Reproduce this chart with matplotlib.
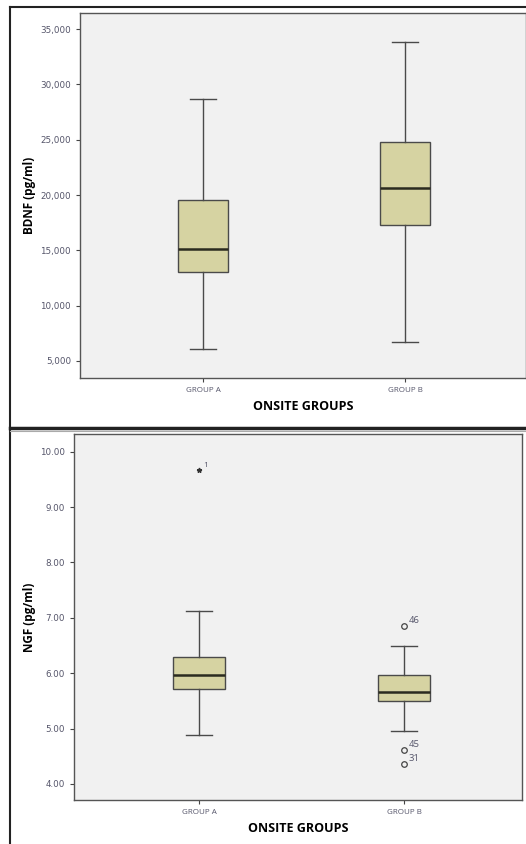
import matplotlib
matplotlib.use("Agg")
import matplotlib.pyplot as plt
from matplotlib.lines import Line2D
from matplotlib.ticker import FuncFormatter

plt.rcParams['font.family'] = ['Open Sans', 'DejaVu Sans']

groups = ["GROUP A", "GROUP B"]

bdnf_whislo = [6120, 6700]
bdnf_q1 = [13020, 17320]
bdnf_med = [15150, 20660]
bdnf_q3 = [19550, 24770]
bdnf_whishi = [28650, 33830]
bdnf_ticks = [5000, 10000, 15000, 20000, 25000, 30000, 35000]

ngf_whislo = [4.89, 4.95]
ngf_q1 = [5.72, 5.49]
ngf_med = [5.97, 5.66]
ngf_q3 = [6.30, 5.97]
ngf_whishi = [7.12, 6.49]
ngf_extremes = [[9.67], []]
ngf_extreme_ids = [["1"], []]
ngf_outliers = [[], [6.86, 4.62, 4.36]]
ngf_outlier_ids = [[], ["46", "45", "31"]]
ngf_ticks = [4.0, 5.0, 6.0, 7.0, 8.0, 9.0, 10.0]

BOX = "#D6D3A2"
EDGE = "#4a4a4a"
BG = "#F1F1F1"
TICKC = "#55556a"

fig = plt.figure(figsize=(5.26, 8.44), dpi=100)
fig.patch.set_facecolor("white")

def make_stats(lo, q1, med, q3, hi):
    return [dict(whislo=lo[i], q1=q1[i], med=med[i], q3=q3[i], whishi=hi[i],
                 fliers=[], label=groups[i]) for i in range(len(groups))]

def style_axes(ax):
    ax.set_facecolor(BG)
    for s in ax.spines.values():
        s.set_color("#555555")
        s.set_linewidth(1.0)
    ax.tick_params(axis='both', colors="#444444", labelcolor=TICKC,
                   length=3, width=0.8)
    ax.tick_params(axis='y', labelsize=6.3)
    ax.tick_params(axis='x', labelsize=5.8)
    for t in ax.get_yticklabels():
        t.set_family("DejaVu Sans")

def draw_box(ax, stats):
    ax.bxp(stats, positions=[1, 2], widths=0.25, patch_artist=True, showfliers=False,
           boxprops=dict(facecolor=BOX, edgecolor=EDGE, linewidth=1.0),
           medianprops=dict(color="#2b2b1f", linewidth=1.8),
           whiskerprops=dict(color=EDGE, linewidth=1.0),
           capprops=dict(color=EDGE, linewidth=1.0),
           capwidths=0.125)

# top panel
ax1 = fig.add_axes([80/526, (844-378)/844, 446/526, 365/844])
draw_box(ax1, make_stats(bdnf_whislo, bdnf_q1, bdnf_med, bdnf_q3, bdnf_whishi))
ax1.set_xlim(0.391, 2.599)
ax1.set_ylim(3460, 36450)
ax1.set_yticks(bdnf_ticks)
ax1.yaxis.set_major_formatter(FuncFormatter(lambda v, p: f"{int(v):,}"))
ax1.set_xticks([1, 2])
ax1.set_xticklabels(groups)
style_axes(ax1)
ax1.set_ylabel("BDNF (pg/ml)", fontsize=8.5, fontweight="bold", labelpad=3)
ax1.set_xlabel("ONSITE GROUPS", fontsize=9, fontweight="bold", labelpad=4)

# bottom panel
ax2 = fig.add_axes([74/526, 44/844, 448/526, 366/844])
draw_box(ax2, make_stats(ngf_whislo, ngf_q1, ngf_med, ngf_q3, ngf_whishi))
for i in range(len(groups)):
    for v, lab in zip(ngf_extremes[i], ngf_extreme_ids[i]):
        ax2.plot([i + 1], [v], marker="*", color="#333333", markersize=3.5, linestyle="none")
        ax2.annotate(lab, (i + 1, v), xytext=(3, 2), textcoords="offset points",
                     fontsize=6, color=TICKC)
    for v, lab in zip(ngf_outliers[i], ngf_outlier_ids[i]):
        ax2.plot([i + 1], [v], marker="o", markerfacecolor="none", markeredgecolor="#444444",
                 markersize=4, markeredgewidth=0.9, linestyle="none")
        ax2.annotate(lab, (i + 1, v), xytext=(3, 2), textcoords="offset points",
                     fontsize=6.8, color=TICKC)
ax2.set_xlim(0.39, 2.575)
ax2.set_ylim(3.71, 10.32)
ax2.set_yticks(ngf_ticks)
ax2.yaxis.set_major_formatter(FuncFormatter(lambda v, p: f"{v:.2f}"))
ax2.set_xticks([1, 2])
ax2.set_xticklabels(groups)
style_axes(ax2)
ax2.set_ylabel("NGF (pg/ml)", fontsize=8.5, fontweight="bold", labelpad=3)
ax2.set_xlabel("ONSITE GROUPS", fontsize=9, fontweight="bold", labelpad=4)

# frame lines of the composite figure
fig.add_artist(Line2D([10/526, 10/526], [0, 1 - 7/844], transform=fig.transFigure,
                      color="#222222", linewidth=1.5))
fig.add_artist(Line2D([10/526, 1], [1 - 7/844, 1 - 7/844], transform=fig.transFigure,
                      color="#222222", linewidth=1.5))
fig.add_artist(Line2D([10/526, 1], [1 - 428/844, 1 - 428/844], transform=fig.transFigure,
                      color="#222222", linewidth=2.5))
fig.add_artist(Line2D([10/526, 1], [1 - 431/844, 1 - 431/844], transform=fig.transFigure,
                      color="#aaaaaa", linewidth=0.8))

fig.savefig("out.png", dpi=100)
